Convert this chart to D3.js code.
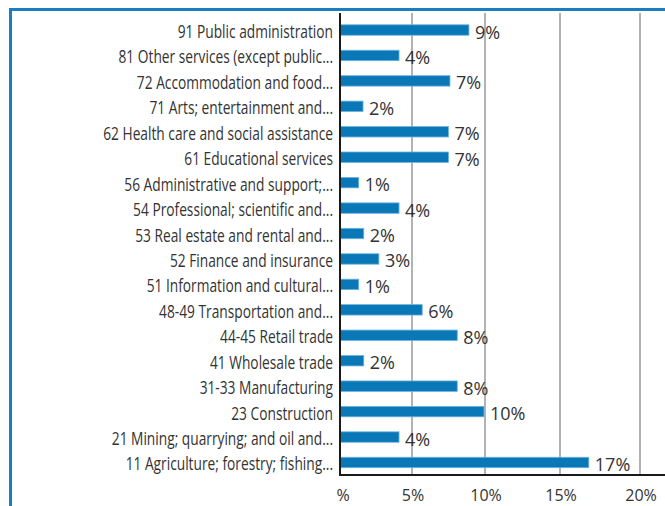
<!DOCTYPE html>
<html>
<head>
<meta charset="utf-8">
<script src="https://cdn.jsdelivr.net/npm/d3@7"></script>
<style>
  html, body { margin: 0; padding: 0; background: #fff; }
  svg { display: block; }
</style>
</head>
<body>
<svg id="chart" width="665" height="506"></svg>
<script>
const categories = [
  "91 Public administration",
  "81 Other services (except public...",
  "72 Accommodation and food...",
  "71 Arts; entertainment and...",
  "62 Health care and social assistance",
  "61 Educational services",
  "56 Administrative and support;...",
  "54 Professional; scientific and...",
  "53 Real estate and rental and...",
  "52 Finance and insurance",
  "51 Information and cultural...",
  "48-49 Transportation and...",
  "44-45 Retail trade",
  "41 Wholesale trade",
  "31-33 Manufacturing",
  "23 Construction",
  "21 Mining; quarrying; and oil and...",
  "11 Agriculture; forestry; fishing..."
];
const values = [8.9, 4.1, 7.6, 1.6, 7.5, 7.5, 1.3, 4.1, 1.65, 2.7, 1.3, 5.7, 8.1, 1.65, 8.1, 9.93, 4.1, 16.8];
const valueLabels = ["9%", "4%", "7%", "2%", "7%", "7%", "1%", "4%", "2%", "3%", "1%", "6%", "8%", "2%", "8%", "10%", "4%", "17%"];
const tickValues = [0, 5, 10, 15, 20];
const tickLabels = ["%", "5%", "10%", "15%", "20%"];

const svg = d3.select("#chart");

const x = d3.scaleLinear().domain([0, 5, 10, 15, 20]).range([340, 412, 485, 560, 640]);
const y = d3.scaleBand().domain(categories).range([17.3, 475.2]).paddingInner(0.59).paddingOuter(0.295);

const plotTop = 13, plotBottom = 475;
const FONT = "'Open Sans', 'Liberation Sans', sans-serif";

// frame
svg.append("rect")
  .attr("x", 10.5).attr("y", 9.5)
  .attr("width", 700).attr("height", 520)
  .attr("fill", "none")
  .attr("stroke", "#1a7fc1")
  .attr("stroke-width", 3);

// gridlines
svg.append("g").selectAll("line")
  .data(tickValues.filter(d => d > 0))
  .join("line")
  .attr("x1", d => x(d)).attr("x2", d => x(d))
  .attr("y1", plotTop).attr("y2", plotBottom)
  .attr("stroke", "#b3b3b3")
  .attr("stroke-width", 2);

// bars
svg.append("g").selectAll("rect")
  .data(categories)
  .join("rect")
  .attr("x", x(0))
  .attr("y", d => y(d))
  .attr("width", (d, i) => x(values[i]) - x(0))
  .attr("height", y.bandwidth())
  .attr("fill", "#0a78b6")
  .attr("stroke", "#6cb3e0")
  .attr("stroke-width", 0.8);

// value labels
svg.append("g").selectAll("text")
  .data(categories)
  .join("text")
  .attr("x", (d, i) => x(values[i]) + 6)
  .attr("y", d => y(d) + y.bandwidth() / 2 + 8.5)
  .attr("font-family", FONT)
  .attr("font-size", 18)
  .attr("fill", "#333")
  .text((d, i) => valueLabels[i]);

// category labels (condensed by uniform horizontal scale)
const labelG = svg.append("g");
const labels = labelG.selectAll("text")
  .data(categories)
  .join("text")
  .attr("x", 0)
  .attr("y", d => y(d) + y.bandwidth() / 2 + 8)
  .attr("text-anchor", "end")
  .attr("font-family", FONT)
  .attr("font-size", 18)
  .attr("fill", "#333")
  .text(d => d);
const longest = d3.max(labels.nodes(), n => n.getComputedTextLength());
const k = 230 / longest;
labelG.attr("transform", `translate(333,0) scale(${k},1)`);

// axis lines
svg.append("line")
  .attr("x1", x(0)).attr("x2", x(0))
  .attr("y1", plotTop).attr("y2", plotBottom + 1)
  .attr("stroke", "#1a1a1a").attr("stroke-width", 2);
svg.append("line")
  .attr("x1", x(0) - 1).attr("x2", 665)
  .attr("y1", plotBottom).attr("y2", plotBottom)
  .attr("stroke", "#1a1a1a").attr("stroke-width", 2);

// tick labels
svg.append("g").selectAll("text")
  .data(tickValues)
  .join("text")
  .attr("x", (d, i) => x(d) + (i === 0 ? 3 : 1))
  .attr("y", 501)
  .attr("text-anchor", "middle")
  .attr("font-family", FONT)
  .attr("font-size", 16)
  .attr("fill", "#333")
  .text((d, i) => tickLabels[i]);
</script>
</body>
</html>
